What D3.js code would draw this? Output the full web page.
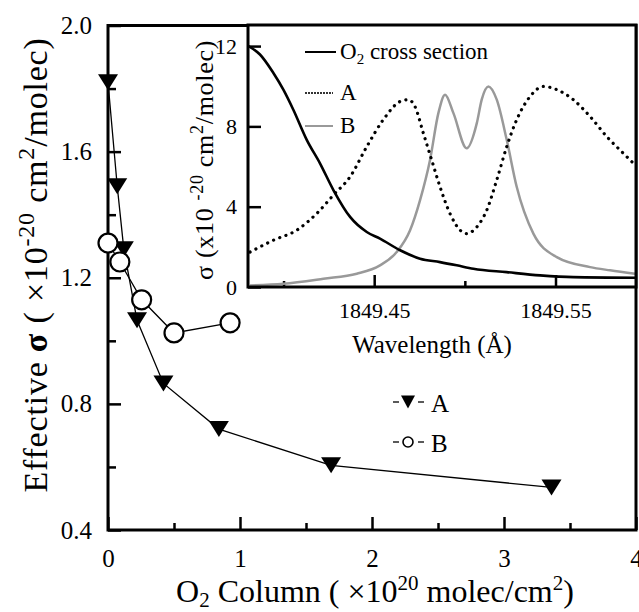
<!DOCTYPE html>
<html>
<head>
<meta charset="utf-8">
<script src="https://cdn.jsdelivr.net/npm/d3@7"></script>
<style>
  html, body { margin: 0; padding: 0; background: #fff; }
</style>
</head>
<body>
<div class="chart"></div>
<script>
// main panel: effective cross section vs O2 column
const columnA = [0, 0.07, 0.12, 0.22, 0.42, 0.84, 1.69, 3.36];
const sigmaA  = [1.82, 1.49, 1.29, 1.065, 0.865, 0.72, 0.605, 0.535];
const columnB = [0, 0.09, 0.255, 0.50, 0.925];
const sigmaB  = [1.31, 1.25, 1.13, 1.025, 1.057];

const mainXTicks = [0, 1, 2, 3, 4];
const mainYTicks = [0.4, 0.8, 1.2, 1.6, 2.0];

// inset: cross sections vs wavelength
const o2Wave  = [1849.3806, 1849.3870, 1849.3944, 1849.3999, 1849.4054, 1849.4128, 1849.4201, 1849.4275, 1849.4367, 1849.4459, 1849.4532, 1849.4643, 1849.4753, 1849.4863, 1849.4955, 1849.5047, 1849.5231, 1849.5415, 1849.5598, 1849.5944];
const o2Sigma = [12.0, 11.58, 10.66, 9.83, 8.83, 7.33, 6.16, 4.83, 3.49, 2.74, 2.41, 1.83, 1.41, 1.24, 1.08, 0.91, 0.74, 0.58, 0.49, 0.46];

const aWave  = [1849.3815, 1849.3944, 1849.4073, 1849.4183, 1849.4275, 1849.4367, 1849.4459, 1849.4550, 1849.4643, 1849.4688, 1849.4725, 1849.4771, 1849.4817, 1849.4863, 1849.4918, 1849.4974, 1849.5010, 1849.5066, 1849.5121, 1849.5176, 1849.5231, 1849.5286, 1849.5360, 1849.5433, 1849.5507, 1849.5598, 1849.5691, 1849.5783, 1849.5874, 1849.5939];
const aSigma = [1.74, 2.33, 2.83, 3.66, 4.58, 5.49, 6.99, 8.33, 9.24, 9.33, 8.99, 7.66, 6.33, 4.99, 3.66, 2.83, 2.66, 2.99, 3.83, 5.33, 6.99, 8.33, 9.49, 9.99, 9.83, 9.33, 8.49, 7.49, 6.66, 6.08];

const bWave  = [1849.3815, 1849.3999, 1849.4220, 1849.4404, 1849.4532, 1849.4624, 1849.4698, 1849.4753, 1849.4808, 1849.4854, 1849.4891, 1849.4937, 1849.5010, 1849.5066, 1849.5093, 1849.5130, 1849.5176, 1849.5231, 1849.5286, 1849.5378, 1849.5507, 1849.5691, 1849.5801, 1849.5939];
const bSigma = [0.08, 0.16, 0.41, 0.66, 1.08, 1.74, 2.83, 4.33, 6.33, 8.66, 9.58, 8.66, 6.91, 8.16, 9.33, 9.99, 9.33, 7.33, 4.99, 2.66, 1.49, 0.99, 0.83, 0.66];

const insetXMajor = [1849.45, 1849.55];
const insetXMinor = [1849.40, 1849.50];
const insetYTicks = [0, 4, 8, 12];

const width = 639, height = 612;
const serif = 'Liberation Serif, Times New Roman, DejaVu Serif, serif';

let svg = d3.select('.chart')
  .append('svg')
  .attr('width', width)
  .attr('height', height)
  .attr('font-family', serif);

let x = d3.scaleLinear().domain([0, 4]).range([108, 636]);
let y = d3.scaleLinear().domain([0.4, 2.0]).range([530, 25.5]);

// axes (ticks point inward)
svg.append('g')
  .attr('transform', `translate(0,${y(0.4)})`)
  .call(d3.axisBottom(x).tickValues(mainXTicks).tickFormat(d3.format('d'))
    .tickSizeInner(-13).tickSizeOuter(0).tickPadding(19));
svg.append('g')
  .attr('transform', `translate(0,${y(0.4)})`)
  .call(d3.axisBottom(x).tickValues([0.5, 1.5, 2.5, 3.5]).tickFormat('')
    .tickSizeInner(-7).tickSizeOuter(0));

svg.append('g')
  .attr('transform', `translate(${x(0)},0)`)
  .call(d3.axisLeft(y).tickValues(mainYTicks).tickFormat(d3.format('.1f'))
    .tickSizeInner(-13).tickSizeOuter(0).tickPadding(16));
svg.append('g')
  .attr('transform', `translate(${x(0)},0)`)
  .call(d3.axisLeft(y).tickValues([0.6, 1.0, 1.4, 1.8]).tickFormat('')
    .tickSizeInner(-8).tickSizeOuter(0));

svg.selectAll('g').attr('font-family', serif);
svg.selectAll('.domain').remove();
svg.selectAll('.tick line').attr('stroke', '#000').attr('stroke-width', 2.5);
svg.selectAll('.tick text').attr('font-size', 25).attr('fill', '#000');

// frame
svg.append('rect')
  .attr('x', x(0)).attr('y', y(2.0))
  .attr('width', x(4) - x(0)).attr('height', y(0.4) - y(2.0))
  .attr('fill', 'none').attr('stroke', '#000').attr('stroke-width', 3);

// series
const line = d3.line().x(d => x(d[0])).y(d => y(d[1]));
const dataA = columnA.map((c, i) => [c, sigmaA[i]]);
const dataB = columnB.map((c, i) => [c, sigmaB[i]]);

svg.append('path').datum(dataA).attr('d', line)
  .attr('fill', 'none').attr('stroke', '#000').attr('stroke-width', 1.3);
svg.append('path').datum(dataB).attr('d', line)
  .attr('fill', 'none').attr('stroke', '#000').attr('stroke-width', 1.3);

const tri = (w, h) => `M${-w / 2},${-h / 2}L${w / 2},${-h / 2}L0,${h / 2}Z`;

svg.selectAll('.markA').data(dataA).enter()
  .append('path')
  .attr('class', 'markA')
  .attr('d', tri(20, 16))
  .attr('transform', d => `translate(${x(d[0])},${y(d[1])})`)
  .attr('fill', '#000');

svg.selectAll('.markB').data(dataB).enter()
  .append('circle')
  .attr('class', 'markB')
  .attr('cx', d => x(d[0])).attr('cy', d => y(d[1]))
  .attr('r', 9.5)
  .attr('fill', '#fff').attr('stroke', '#000').attr('stroke-width', 2.2);

// main legend
let leg = svg.append('g');
[['A', 402], ['B', 442]].forEach(([name, ly]) => {
  leg.append('line').attr('x1', 393).attr('x2', 399).attr('y1', ly).attr('y2', ly)
    .attr('stroke', '#000').attr('stroke-width', 1.3);
  leg.append('line').attr('x1', 418).attr('x2', 424).attr('y1', ly).attr('y2', ly)
    .attr('stroke', '#000').attr('stroke-width', 1.3);
  if (name === 'A') {
    leg.append('path').attr('d', tri(14, 13)).attr('transform', `translate(408,${ly})`).attr('fill', '#000');
  } else {
    leg.append('circle').attr('cx', 408).attr('cy', ly).attr('r', 5)
      .attr('fill', '#fff').attr('stroke', '#000').attr('stroke-width', 1.6);
  }
  leg.append('text').attr('x', 431).attr('y', ly + 10).attr('font-size', 25).text(name);
});

// main axis titles
let xt = svg.append('text')
  .attr('x', 375).attr('y', 602)
  .attr('text-anchor', 'middle').attr('font-size', 32);
xt.append('tspan').text('O');
xt.append('tspan').attr('font-size', 21).attr('dy', 5).text('2');
xt.append('tspan').attr('dy', -5).text(' Column ( \u00d710');
xt.append('tspan').attr('font-size', 21).attr('dy', -12).text('20');
xt.append('tspan').attr('dy', 12).text(' molec/cm');
xt.append('tspan').attr('font-size', 21).attr('dy', -12).text('2');
xt.append('tspan').attr('dy', 12).text(')');

let yt = svg.append('text')
  .attr('transform', 'translate(47,265) rotate(-90)')
  .attr('text-anchor', 'middle').attr('font-size', 34)
  .attr('letter-spacing', 0.8);
yt.append('tspan').text('Effective ');
yt.append('tspan').attr('font-weight', 'bold').text('\u03c3');
yt.append('tspan').text(' ( \u00d710');
yt.append('tspan').attr('font-size', 24).attr('dy', -13).text('-20');
yt.append('tspan').attr('dy', 13).text(' cm');
yt.append('tspan').attr('font-size', 24).attr('dy', -13).text('2');
yt.append('tspan').attr('dy', 13).text('/molec)');

// ---------- inset ----------
let ix = d3.scaleLinear().domain([1849.3804, 1849.5944]).range([248, 636]);
let iy = d3.scaleLinear().domain([0, 13.05]).range([287, 25]);

let inset = svg.append('g');

inset.append('rect')
  .attr('x', ix.range()[0]).attr('y', iy(13.05))
  .attr('width', ix.range()[1] - ix.range()[0]).attr('height', iy(0) - iy(13.05))
  .attr('fill', '#fff');

inset.append('g')
  .attr('transform', `translate(0,${iy(0)})`)
  .call(d3.axisBottom(ix).tickValues(insetXMajor).tickFormat(d3.format('.2f'))
    .tickSizeInner(-12).tickSizeOuter(0).tickPadding(15));
inset.append('g')
  .attr('transform', `translate(0,${iy(0)})`)
  .call(d3.axisBottom(ix).tickValues(insetXMinor).tickFormat('')
    .tickSizeInner(-6).tickSizeOuter(0));
inset.append('g')
  .attr('transform', `translate(${ix.range()[0]},0)`)
  .call(d3.axisLeft(iy).tickValues(insetYTicks).tickFormat(d3.format('d'))
    .tickSizeInner(-13).tickSizeOuter(0).tickPadding(11));

inset.selectAll('g').attr('font-family', serif);
inset.selectAll('.domain').remove();
inset.selectAll('.tick line').attr('stroke', '#000').attr('stroke-width', 2.5);
inset.selectAll('.tick text').attr('font-size', 22).attr('fill', '#000');

svg.append('clipPath').attr('id', 'insetClip')
  .append('rect')
  .attr('x', 248).attr('y', iy(13.05))
  .attr('width', 388).attr('height', iy(0) - iy(13.05));

const iline = d3.line().x(d => ix(d[0])).y(d => iy(d[1])).curve(d3.curveMonotoneX);

let curves = inset.append('g').attr('clip-path', 'url(#insetClip)');
curves.append('path')
  .datum(bWave.map((w, i) => [w, bSigma[i]]))
  .attr('d', iline)
  .attr('fill', 'none').attr('stroke', '#999').attr('stroke-width', 2.5);
curves.append('path')
  .datum(aWave.map((w, i) => [w, aSigma[i]]))
  .attr('d', iline)
  .attr('fill', 'none').attr('stroke', '#000').attr('stroke-width', 3.2)
  .attr('stroke-dasharray', '0.1,6.5').attr('stroke-linecap', 'round');
curves.append('path')
  .datum(o2Wave.map((w, i) => [w, o2Sigma[i]]))
  .attr('d', iline)
  .attr('fill', 'none').attr('stroke', '#000').attr('stroke-width', 2.6);

inset.append('rect')
  .attr('x', 248).attr('y', iy(13.05))
  .attr('width', 388).attr('height', iy(0) - iy(13.05))
  .attr('fill', 'none').attr('stroke', '#000').attr('stroke-width', 3);

// inset legend
inset.append('line').attr('x1', 305).attr('x2', 336).attr('y1', 52).attr('y2', 52)
  .attr('stroke', '#000').attr('stroke-width', 2);
let lt = inset.append('text').attr('x', 340).attr('y', 59).attr('font-size', 23);
lt.append('tspan').text('O');
lt.append('tspan').attr('font-size', 15).attr('dy', 5).text('2');
lt.append('tspan').attr('dy', -5).text(' cross section');

inset.append('line').attr('x1', 305).attr('x2', 333).attr('y1', 93).attr('y2', 93)
  .attr('stroke', '#333').attr('stroke-width', 2).attr('stroke-dasharray', '2,1');
inset.append('text').attr('x', 340).attr('y', 100).attr('font-size', 23).text('A');

inset.append('line').attr('x1', 305).attr('x2', 333).attr('y1', 126).attr('y2', 126)
  .attr('stroke', '#999').attr('stroke-width', 2);
inset.append('text').attr('x', 340).attr('y', 133).attr('font-size', 23).text('B');

// inset titles
inset.append('text')
  .attr('x', 432).attr('y', 353)
  .attr('text-anchor', 'middle').attr('font-size', 25)
  .text('Wavelength (\u00c5)');

let it = inset.append('text')
  .attr('transform', 'translate(213,160) rotate(-90)')
  .attr('text-anchor', 'middle').attr('font-size', 26)
  .attr('letter-spacing', 0.7);
it.append('tspan').text('\u03c3 (x10 ');
it.append('tspan').attr('font-size', 18).attr('dy', -10).text('-20');
it.append('tspan').attr('dy', 10).text(' cm');
it.append('tspan').attr('font-size', 18).attr('dy', -10).text('2');
it.append('tspan').attr('dy', 10).text('/molec)');
</script>
</body>
</html>
